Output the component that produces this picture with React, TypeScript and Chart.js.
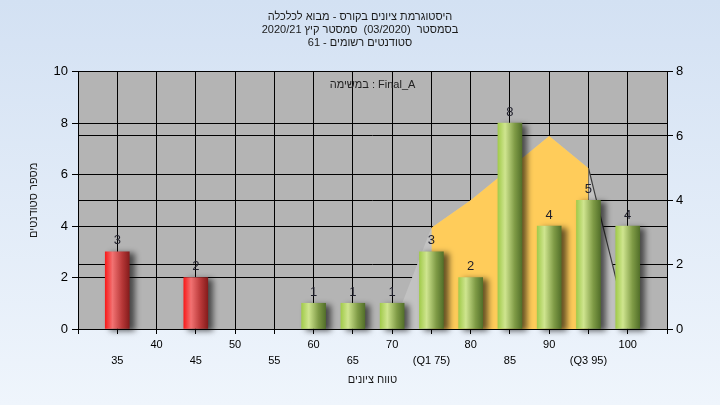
import React, { useEffect, useRef } from 'react';
import { Chart, registerables } from 'chart.js';

Chart.register(...registerables);

// ---- data ----
const titleLines = [
  'היסטוגרמת ציונים בקורס - מבוא לכלכלה',
  'בסמסטר  (03/2020)  סמסטר קיץ 2020/21',
  'סטודנטים רשומים - 61',
];
const legendText = 'במשימה : Final_A';
const xTitle = 'טווח ציונים';
const yTitle = 'מספר סטודנטים';

const binCenters = [35, 45, 60, 65, 70, 75, 80, 85, 90, 95, 100];
const studentCounts = [3, 2, 1, 1, 1, 3, 2, 8, 4, 5, 4];
const passThreshold = 55;

const curveX = [70, 75, 80, 85, 90, 95, 100];
const curveY = [0, 3.15, 4, 5, 6, 5, 0.1];
const q1 = 75;
const q3 = 95;

const xMin = 30;
const xMax = 105;
const xStep = 5;
const xFirstLabel = 35;
const xLastLabel = 100;
const specialTickLabels: Record<number, string> = { 75: '(Q1 75)', 95: '(Q3 95)' };

const leftMin = 0;
const leftMax = 10;
const leftStep = 2;
const rightMin = 0;
const rightMax = 8;
const rightStep = 2;

const FONT = "'Liberation Sans', Arial, sans-serif";

function barGradient(c: any) {
  if (c.type !== 'data') return '#9c4';
  const chart = c.chart;
  const xs = chart.scales && chart.scales.x;
  const raw = c.raw as { x: number; y: number };
  const fail = raw.x < passThreshold;
  if (!xs || !chart.chartArea) return fail ? '#e22' : '#9c4';
  const px = xs.getPixelForValue(raw.x);
  const g = chart.ctx.createLinearGradient(px - 12, 0, px + 12, 0);
  if (fail) {
    g.addColorStop(0, '#F81C1C');
    g.addColorStop(0.3, '#F27272');
    g.addColorStop(0.7, '#B83838');
    g.addColorStop(1, '#861C1C');
  } else {
    g.addColorStop(0, '#A2CB4C');
    g.addColorStop(0.3, '#CFE58F');
    g.addColorStop(0.7, '#7F9B46');
    g.addColorStop(1, '#53702A');
  }
  return g;
}

const plotBgPlugin = {
  id: 'plotBg',
  beforeDraw(chart: any) {
    const { ctx, chartArea: a } = chart;
    ctx.save();
    ctx.fillStyle = '#B4B4B4';
    ctx.fillRect(a.left, a.top, a.right - a.left, a.bottom - a.top);
    ctx.restore();
  },
};

const barShadowPlugin = {
  id: 'barShadow',
  beforeDatasetDraw(chart: any, args: any) {
    if (args.index !== 0) return;
    const ctx = chart.ctx;
    ctx.save();
    ctx.shadowColor = 'rgba(0,0,0,0.6)';
    ctx.shadowBlur = 6;
    ctx.shadowOffsetX = 5;
    ctx.shadowOffsetY = 2;
  },
  afterDatasetDraw(chart: any, args: any) {
    if (args.index !== 0) return;
    chart.ctx.restore();
  },
};

const labelsPlugin = {
  id: 'valueLabels',
  afterDatasetsDraw(chart: any) {
    const ctx = chart.ctx;
    const meta = chart.getDatasetMeta(0);
    ctx.save();
    ctx.font = `13px ${FONT}`;
    ctx.fillStyle = '#1e1e2a';
    ctx.textAlign = 'center';
    ctx.textBaseline = 'middle';
    meta.data.forEach((el: any, i: number) => {
      ctx.fillText(String(studentCounts[i]), el.x, el.y - 11);
    });
    const a = chart.chartArea;
    ctx.font = `11px ${FONT}`;
    ctx.fillStyle = '#222';
    ctx.fillText(legendText, (a.left + a.right) / 2, a.top + 13);
    ctx.restore();
  },
};

export default function App() {
  const ref = useRef<HTMLCanvasElement | null>(null);

  useEffect(() => {
    document.body.style.margin = '0';
    const canvas = ref.current;
    if (!canvas) return;

    const chart = new Chart(canvas, {
      type: 'bar',
      data: {
        datasets: [
          {
            type: 'bar',
            data: binCenters.map((x, i) => ({ x, y: studentCounts[i] })),
            xAxisID: 'x',
            yAxisID: 'y',
            backgroundColor: barGradient as any,
            borderWidth: 0,
            barThickness: 24,
            order: 0,
            clip: false as any,
          } as any,
          {
            type: 'line',
            data: curveX
              .map((x, i) => ({ x, y: curveY[i] }))
              .filter((p) => p.x >= q1 && p.x <= q3),
            xAxisID: 'x',
            yAxisID: 'y2',
            fill: 'origin',
            backgroundColor: '#FFCC5A',
            borderColor: 'rgba(0,0,0,0)',
            borderWidth: 0,
            pointRadius: 0,
            tension: 0,
            order: 1,
          } as any,
          {
            type: 'line',
            data: curveX.map((x, i) => ({ x, y: curveY[i] })),
            xAxisID: 'x',
            yAxisID: 'y2',
            fill: 'origin',
            backgroundColor: '#C2C2C2',
            borderColor: 'rgba(0,0,0,0)',
            borderWidth: 1.2,
            pointRadius: 0,
            tension: 0,
            order: 2,
            segment: {
              borderColor: (s: any) => (s.p0.parsed.x === q3 ? '#3a3a3a' : 'rgba(0,0,0,0)'),
            },
          } as any,
        ],
      },
      options: {
        responsive: false,
        animation: false,
        layout: { padding: 0 },
        plugins: {
          legend: { display: false },
          tooltip: { enabled: false },
          title: {
            display: true,
            text: titleLines,
            color: '#1a1a1a',
            font: { family: FONT, size: 11, weight: 'normal', lineHeight: 1.2 },
            padding: { top: 10, bottom: 22 },
          },
        },
        scales: {
          x: {
            type: 'linear',
            position: 'bottom',
            min: xMin,
            max: xMax,
            offset: false,
            afterFit: (s: any) => {
              s.height = 76;
            },
            ticks: {
              stepSize: xStep,
              autoSkip: false,
              maxRotation: 0,
              minRotation: 0,
              padding: 3,
              color: '#000',
              font: { family: FONT, size: 11, lineHeight: '16px' as any },
              callback: (v: any) => {
                const value = Number(v);
                if (value < xFirstLabel || value > xLastLabel) return '';
                const label = specialTickLabels[value] ?? String(value);
                const idx = Math.round((value - xFirstLabel) / xStep);
                return idx % 2 === 0 ? ['', label] : [label];
              },
            },
            grid: { color: '#000', tickLength: 5, lineWidth: 1, offset: false },
            border: { color: '#000' },
            title: {
              display: true,
              text: xTitle,
              color: '#1a1a1a',
              font: { family: FONT, size: 11 },
              padding: { top: 4, bottom: 18 },
            },
          },
          y: {
            type: 'linear',
            position: 'left',
            min: leftMin,
            max: leftMax,
            afterFit: (s: any) => {
              s.width = 78;
            },
            ticks: {
              stepSize: leftStep,
              padding: 4,
              color: '#000',
              font: { family: FONT, size: 13 },
            },
            grid: { color: '#000', tickLength: 6 },
            border: { color: '#000' },
            title: {
              display: true,
              text: yTitle,
              color: '#1a1a1a',
              font: { family: FONT, size: 11 },
              padding: { top: 27, bottom: 0 },
            },
          },
          y2: {
            type: 'linear',
            position: 'right',
            min: rightMin,
            max: rightMax,
            afterFit: (s: any) => {
              s.width = 53;
            },
            ticks: {
              stepSize: rightStep,
              padding: 3,
              color: '#000',
              font: { family: FONT, size: 13 },
            },
            grid: { color: '#000', tickLength: 6, drawOnChartArea: true },
            border: { color: '#000' },
          },
        },
      } as any,
      plugins: [plotBgPlugin, barShadowPlugin, labelsPlugin],
    });

    return () => chart.destroy();
  }, []);

  return (
    <div
      style={{
        position: 'fixed',
        left: 0,
        top: 0,
        width: 720,
        height: 405,
        background: 'linear-gradient(180deg, #D3E1F3 0%, #EFF5FC 100%)',
      }}
    >
      <canvas ref={ref} width={720} height={405} style={{ display: 'block' }} />
    </div>
  );
}
